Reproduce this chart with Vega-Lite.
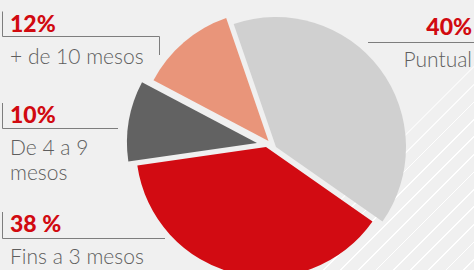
{
  "$schema": "https://vega.github.io/schema/vega-lite/v6.json",
  "width": 474,
  "height": 270,
  "autosize": {"type": "none"},
  "padding": 0,
  "background": "#f0f0f0",
  "config": {"view": {"stroke": null}, "axis": {"disable": true}},
  "data": {
    "values": [
      {"cat": "Puntual", "value": 40, "label": "40%", "ord": 1},
      {"cat": "Fins a 3 mesos", "value": 38, "label": "38 %", "ord": 2},
      {"cat": "De 4 a 9 mesos", "value": 10, "label": "10%", "ord": 3},
      {"cat": "+ de 10 mesos", "value": 12, "label": "12%", "ord": 4}
    ]
  },
  "layer": [
    {
      "data": {"values": [{}]},
      "mark": {
        "type": "rect",
        "fill": {
          "gradient": "linear", "x1": 0, "y1": 0, "x2": 1, "y2": 1,
          "stops": [
            {"offset": 0, "color": "rgba(255,255,255,0)"},
            {"offset": 0.62222, "color": "rgba(255,255,255,0)"}, {"offset": 0.62222, "color": "rgba(255,255,255,0.6)"}, {"offset": 0.62522, "color": "rgba(255,255,255,0.6)"}, {"offset": 0.62522, "color": "rgba(255,255,255,0)"},
            {"offset": 0.65463, "color": "rgba(255,255,255,0)"}, {"offset": 0.65463, "color": "rgba(255,255,255,0.8)"}, {"offset": 0.65763, "color": "rgba(255,255,255,0.8)"}, {"offset": 0.65763, "color": "rgba(255,255,255,0)"},
            {"offset": 0.68704, "color": "rgba(255,255,255,0)"}, {"offset": 0.68704, "color": "rgba(255,255,255,0.9)"}, {"offset": 0.69004, "color": "rgba(255,255,255,0.9)"}, {"offset": 0.69004, "color": "rgba(255,255,255,0)"},
            {"offset": 0.71944, "color": "rgba(255,255,255,0)"}, {"offset": 0.71944, "color": "#ffffff"}, {"offset": 0.72244, "color": "#ffffff"}, {"offset": 0.72244, "color": "rgba(255,255,255,0)"},
            {"offset": 0.75185, "color": "rgba(255,255,255,0)"}, {"offset": 0.75185, "color": "#ffffff"}, {"offset": 0.75485, "color": "#ffffff"}, {"offset": 0.75485, "color": "rgba(255,255,255,0)"},
            {"offset": 0.78426, "color": "rgba(255,255,255,0)"}, {"offset": 0.78426, "color": "#ffffff"}, {"offset": 0.78726, "color": "#ffffff"}, {"offset": 0.78726, "color": "rgba(255,255,255,0)"},
            {"offset": 0.81667, "color": "rgba(255,255,255,0)"}, {"offset": 0.81667, "color": "#ffffff"}, {"offset": 0.81967, "color": "#ffffff"}, {"offset": 0.81967, "color": "rgba(255,255,255,0)"},
            {"offset": 0.84907, "color": "rgba(255,255,255,0)"}, {"offset": 0.84907, "color": "#ffffff"}, {"offset": 0.85207, "color": "#ffffff"}, {"offset": 0.85207, "color": "rgba(255,255,255,0)"},
            {"offset": 0.88148, "color": "rgba(255,255,255,0)"}, {"offset": 0.88148, "color": "#ffffff"}, {"offset": 0.88448, "color": "#ffffff"}, {"offset": 0.88448, "color": "rgba(255,255,255,0)"},
            {"offset": 0.91389, "color": "rgba(255,255,255,0)"}, {"offset": 0.91389, "color": "#ffffff"}, {"offset": 0.91689, "color": "#ffffff"}, {"offset": 0.91689, "color": "rgba(255,255,255,0)"},
            {"offset": 0.9463, "color": "rgba(255,255,255,0)"}, {"offset": 0.9463, "color": "#ffffff"}, {"offset": 0.9493, "color": "#ffffff"}, {"offset": 0.9493, "color": "rgba(255,255,255,0)"},
            {"offset": 0.9787, "color": "rgba(255,255,255,0)"}, {"offset": 0.9787, "color": "#ffffff"}, {"offset": 0.9817, "color": "#ffffff"}, {"offset": 0.9817, "color": "rgba(255,255,255,0)"},
            {"offset": 1, "color": "rgba(255,255,255,0)"}
          ]
        }
      },
      "encoding": {
        "x": {"datum": 204, "type": "quantitative", "scale": {"domain": [0, 474], "nice": false, "zero": false}, "axis": null},
        "x2": {"datum": 474},
        "y": {"datum": 0, "type": "quantitative", "scale": {"domain": [0, 270], "nice": false, "zero": false, "reverse": true}, "axis": null},
        "y2": {"datum": 270}
      }
    },
    {
      "transform": [
        {"stack": "value", "groupby": [], "sort": [{"field": "ord"}], "as": ["t0", "t1"]},
        {"filter": "datum.cat === 'Puntual'"}
      ],
      "mark": {"type": "arc", "outerRadius": 130},
      "encoding": {
        "theta": {"field": "t0", "type": "quantitative", "stack": null, "scale": {"domain": [0, 100], "range": [-0.33161, 5.95157]}},
        "theta2": {"field": "t1"},
        "color": {"field": "cat", "type": "nominal", "legend": null, "scale": {"domain": ["Puntual", "Fins a 3 mesos", "De 4 a 9 mesos", "+ de 10 mesos"], "range": ["#d0d0d0", "#d20b12", "#626262", "#e9957a"]}},
        "x": {"datum": 276, "type": "quantitative", "scale": {"domain": [0, 474], "nice": false, "zero": false}, "axis": null},
        "y": {"datum": 147, "type": "quantitative", "scale": {"domain": [0, 270], "nice": false, "zero": false, "reverse": true}, "axis": null}
      }
    },
    {
      "transform": [
        {"stack": "value", "groupby": [], "sort": [{"field": "ord"}], "as": ["t0", "t1"]},
        {"filter": "datum.cat === 'Fins a 3 mesos'"}
      ],
      "mark": {"type": "arc", "outerRadius": 130},
      "encoding": {
        "theta": {"field": "t0", "type": "quantitative", "stack": null, "scale": {"domain": [0, 100], "range": [-0.33161, 5.95157]}},
        "theta2": {"field": "t1"},
        "color": {"field": "cat", "type": "nominal", "legend": null, "scale": {"domain": ["Puntual", "Fins a 3 mesos", "De 4 a 9 mesos", "+ de 10 mesos"], "range": ["#d0d0d0", "#d20b12", "#626262", "#e9957a"]}},
        "x": {"datum": 266, "type": "quantitative", "scale": {"domain": [0, 474], "nice": false, "zero": false}, "axis": null},
        "y": {"datum": 147, "type": "quantitative", "scale": {"domain": [0, 270], "nice": false, "zero": false, "reverse": true}, "axis": null}
      }
    },
    {
      "transform": [
        {"stack": "value", "groupby": [], "sort": [{"field": "ord"}], "as": ["t0", "t1"]},
        {"filter": "datum.cat === 'De 4 a 9 mesos'"}
      ],
      "mark": {"type": "arc", "outerRadius": 130},
      "encoding": {
        "theta": {"field": "t0", "type": "quantitative", "stack": null, "scale": {"domain": [0, 100], "range": [-0.33161, 5.95157]}},
        "theta2": {"field": "t1"},
        "color": {"field": "cat", "type": "nominal", "legend": null, "scale": {"domain": ["Puntual", "Fins a 3 mesos", "De 4 a 9 mesos", "+ de 10 mesos"], "range": ["#d0d0d0", "#d20b12", "#626262", "#e9957a"]}},
        "x": {"datum": 257, "type": "quantitative", "scale": {"domain": [0, 474], "nice": false, "zero": false}, "axis": null},
        "y": {"datum": 143, "type": "quantitative", "scale": {"domain": [0, 270], "nice": false, "zero": false, "reverse": true}, "axis": null}
      }
    },
    {
      "transform": [
        {"stack": "value", "groupby": [], "sort": [{"field": "ord"}], "as": ["t0", "t1"]},
        {"filter": "datum.cat === '+ de 10 mesos'"}
      ],
      "mark": {"type": "arc", "outerRadius": 130},
      "encoding": {
        "theta": {"field": "t0", "type": "quantitative", "stack": null, "scale": {"domain": [0, 100], "range": [-0.33161, 5.95157]}},
        "theta2": {"field": "t1"},
        "color": {"field": "cat", "type": "nominal", "legend": null, "scale": {"domain": ["Puntual", "Fins a 3 mesos", "De 4 a 9 mesos", "+ de 10 mesos"], "range": ["#d0d0d0", "#d20b12", "#626262", "#e9957a"]}},
        "x": {"datum": 268.5, "type": "quantitative", "scale": {"domain": [0, 474], "nice": false, "zero": false}, "axis": null},
        "y": {"datum": 141, "type": "quantitative", "scale": {"domain": [0, 270], "nice": false, "zero": false, "reverse": true}, "axis": null}
      }
    },
    {
      "data": {"values": [{}]},
      "mark": {"type": "rule", "color": "#7d7d7d", "strokeWidth": 1},
      "encoding": {"x": {"datum": 2.5, "type": "quantitative", "scale": {"domain": [0, 474], "nice": false, "zero": false}, "axis": null}, "x2": {"datum": 2.5}, "y": {"datum": 11.5, "type": "quantitative", "scale": {"domain": [0, 270], "nice": false, "zero": false, "reverse": true}, "axis": null}, "y2": {"datum": 36.5}}
    },
    {
      "data": {"values": [{}]},
      "mark": {"type": "rule", "color": "#7d7d7d", "strokeWidth": 1},
      "encoding": {"x": {"datum": 2.5, "type": "quantitative", "scale": {"domain": [0, 474], "nice": false, "zero": false}, "axis": null}, "x2": {"datum": 159.5}, "y": {"datum": 36.5, "type": "quantitative", "scale": {"domain": [0, 270], "nice": false, "zero": false, "reverse": true}, "axis": null}, "y2": {"datum": 36.5}}
    },
    {
      "data": {"values": [{}]},
      "mark": {"type": "rule", "color": "#7d7d7d", "strokeWidth": 1},
      "encoding": {"x": {"datum": 159.5, "type": "quantitative", "scale": {"domain": [0, 474], "nice": false, "zero": false}, "axis": null}, "x2": {"datum": 159.5}, "y": {"datum": 36.5, "type": "quantitative", "scale": {"domain": [0, 270], "nice": false, "zero": false, "reverse": true}, "axis": null}, "y2": {"datum": 55}}
    },
    {
      "data": {"values": [{}]},
      "mark": {"type": "rule", "color": "#7d7d7d", "strokeWidth": 1},
      "encoding": {"x": {"datum": 2.5, "type": "quantitative", "scale": {"domain": [0, 474], "nice": false, "zero": false}, "axis": null}, "x2": {"datum": 2.5}, "y": {"datum": 103, "type": "quantitative", "scale": {"domain": [0, 270], "nice": false, "zero": false, "reverse": true}, "axis": null}, "y2": {"datum": 128.5}}
    },
    {
      "data": {"values": [{}]},
      "mark": {"type": "rule", "color": "#7d7d7d", "strokeWidth": 1},
      "encoding": {"x": {"datum": 2.5, "type": "quantitative", "scale": {"domain": [0, 474], "nice": false, "zero": false}, "axis": null}, "x2": {"datum": 118}, "y": {"datum": 128.5, "type": "quantitative", "scale": {"domain": [0, 270], "nice": false, "zero": false, "reverse": true}, "axis": null}, "y2": {"datum": 128.5}}
    },
    {
      "data": {"values": [{}]},
      "mark": {"type": "rule", "color": "#7d7d7d", "strokeWidth": 1},
      "encoding": {"x": {"datum": 2.5, "type": "quantitative", "scale": {"domain": [0, 474], "nice": false, "zero": false}, "axis": null}, "x2": {"datum": 2.5}, "y": {"datum": 212, "type": "quantitative", "scale": {"domain": [0, 270], "nice": false, "zero": false, "reverse": true}, "axis": null}, "y2": {"datum": 238.5}}
    },
    {
      "data": {"values": [{}]},
      "mark": {"type": "rule", "color": "#7d7d7d", "strokeWidth": 1},
      "encoding": {"x": {"datum": 2.5, "type": "quantitative", "scale": {"domain": [0, 474], "nice": false, "zero": false}, "axis": null}, "x2": {"datum": 165}, "y": {"datum": 238.5, "type": "quantitative", "scale": {"domain": [0, 270], "nice": false, "zero": false, "reverse": true}, "axis": null}, "y2": {"datum": 238.5}}
    },
    {
      "data": {"values": [{}]},
      "mark": {"type": "rule", "color": "#7d7d7d", "strokeWidth": 1},
      "encoding": {"x": {"datum": 368, "type": "quantitative", "scale": {"domain": [0, 474], "nice": false, "zero": false}, "axis": null}, "x2": {"datum": 474}, "y": {"datum": 42.5, "type": "quantitative", "scale": {"domain": [0, 270], "nice": false, "zero": false, "reverse": true}, "axis": null}, "y2": {"datum": 42.5}}
    },
    {
      "transform": [{"filter": "datum.cat === '+ de 10 mesos'"}],
      "mark": {"type": "text", "align": "left", "baseline": "alphabetic", "font": "Lato", "fontWeight": 900, "fontSize": 23, "color": "#d10a10"},
      "encoding": {"text": {"field": "label"}, "x": {"datum": 10, "type": "quantitative", "scale": {"domain": [0, 474], "nice": false, "zero": false}, "axis": null}, "y": {"datum": 32, "type": "quantitative", "scale": {"domain": [0, 270], "nice": false, "zero": false, "reverse": true}, "axis": null}}
    },
    {
      "transform": [{"filter": "datum.cat === 'De 4 a 9 mesos'"}],
      "mark": {"type": "text", "align": "left", "baseline": "alphabetic", "font": "Lato", "fontWeight": 900, "fontSize": 23, "color": "#d10a10"},
      "encoding": {"text": {"field": "label"}, "x": {"datum": 10, "type": "quantitative", "scale": {"domain": [0, 474], "nice": false, "zero": false}, "axis": null}, "y": {"datum": 123, "type": "quantitative", "scale": {"domain": [0, 270], "nice": false, "zero": false, "reverse": true}, "axis": null}}
    },
    {
      "transform": [{"filter": "datum.cat === 'Fins a 3 mesos'"}],
      "mark": {"type": "text", "align": "left", "baseline": "alphabetic", "font": "Lato", "fontWeight": 900, "fontSize": 23, "color": "#d10a10"},
      "encoding": {"text": {"field": "label"}, "x": {"datum": 10, "type": "quantitative", "scale": {"domain": [0, 474], "nice": false, "zero": false}, "axis": null}, "y": {"datum": 232, "type": "quantitative", "scale": {"domain": [0, 270], "nice": false, "zero": false, "reverse": true}, "axis": null}}
    },
    {
      "transform": [{"filter": "datum.cat === 'Puntual'"}],
      "mark": {"type": "text", "align": "right", "baseline": "alphabetic", "font": "Lato", "fontWeight": 900, "fontSize": 23, "color": "#d10a10"},
      "encoding": {"text": {"field": "label"}, "x": {"datum": 472, "type": "quantitative", "scale": {"domain": [0, 474], "nice": false, "zero": false}, "axis": null}, "y": {"datum": 35, "type": "quantitative", "scale": {"domain": [0, 270], "nice": false, "zero": false, "reverse": true}, "axis": null}}
    },
    {
      "transform": [{"filter": "datum.cat === '+ de 10 mesos'"}],
      "mark": {"type": "text", "align": "left", "baseline": "alphabetic", "font": "Lato", "fontWeight": 300, "fontSize": 21, "color": "#5e5e5e"},
      "encoding": {"text": {"field": "cat"}, "x": {"datum": 10, "type": "quantitative", "scale": {"domain": [0, 474], "nice": false, "zero": false}, "axis": null}, "y": {"datum": 64, "type": "quantitative", "scale": {"domain": [0, 270], "nice": false, "zero": false, "reverse": true}, "axis": null}}
    },
    {
      "transform": [{"filter": "datum.cat === 'De 4 a 9 mesos'"}, {"calculate": "[slice(datum.cat, 0, 8), slice(datum.cat, 9)]", "as": "lines"}],
      "mark": {"type": "text", "align": "left", "baseline": "alphabetic", "font": "Lato", "fontWeight": 300, "fontSize": 21, "lineHeight": 25, "color": "#5e5e5e"},
      "encoding": {"text": {"field": "lines"}, "x": {"datum": 10, "type": "quantitative", "scale": {"domain": [0, 474], "nice": false, "zero": false}, "axis": null}, "y": {"datum": 155, "type": "quantitative", "scale": {"domain": [0, 270], "nice": false, "zero": false, "reverse": true}, "axis": null}}
    },
    {
      "transform": [{"filter": "datum.cat === 'Fins a 3 mesos'"}],
      "mark": {"type": "text", "align": "left", "baseline": "alphabetic", "font": "Lato", "fontWeight": 300, "fontSize": 21, "color": "#5e5e5e"},
      "encoding": {"text": {"field": "cat"}, "x": {"datum": 10, "type": "quantitative", "scale": {"domain": [0, 474], "nice": false, "zero": false}, "axis": null}, "y": {"datum": 264, "type": "quantitative", "scale": {"domain": [0, 270], "nice": false, "zero": false, "reverse": true}, "axis": null}}
    },
    {
      "transform": [{"filter": "datum.cat === 'Puntual'"}],
      "mark": {"type": "text", "align": "right", "baseline": "alphabetic", "font": "Lato", "fontWeight": 300, "fontSize": 21, "color": "#5e5e5e"},
      "encoding": {"text": {"field": "cat"}, "x": {"datum": 472, "type": "quantitative", "scale": {"domain": [0, 474], "nice": false, "zero": false}, "axis": null}, "y": {"datum": 67, "type": "quantitative", "scale": {"domain": [0, 270], "nice": false, "zero": false, "reverse": true}, "axis": null}}
    }
  ]
}
